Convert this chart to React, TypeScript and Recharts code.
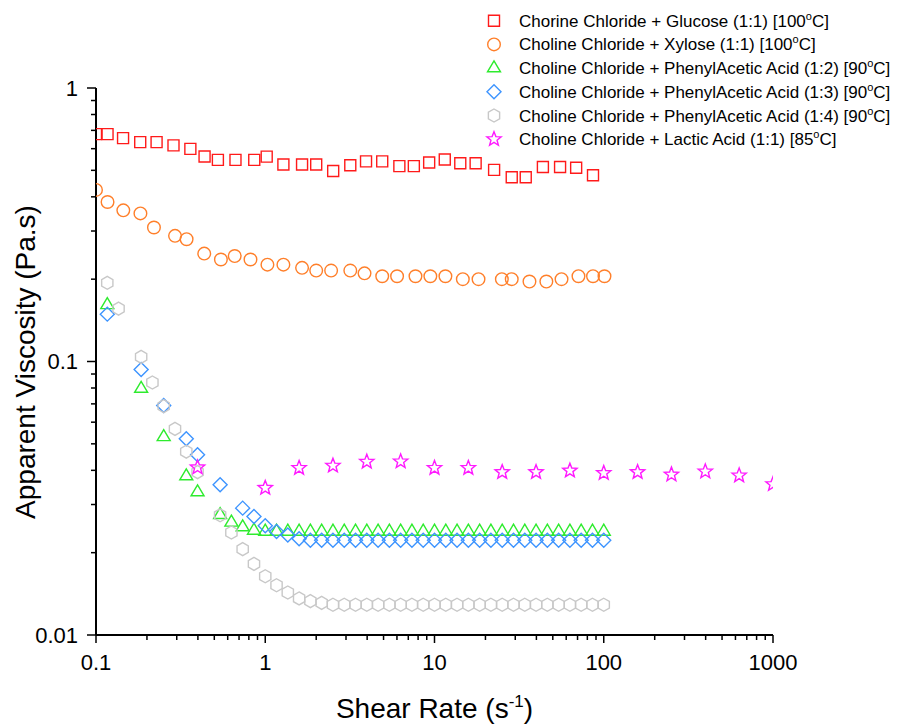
import React from 'react';
import { ScatterChart, Scatter, XAxis, YAxis } from 'recharts';

// ---- Data (shear rate in s^-1, apparent viscosity in Pa.s) ----
const glucoseRate = [0.1, 0.117, 0.1445, 0.1825, 0.228, 0.287, 0.361, 0.438, 0.525, 0.667, 0.861, 1.02, 1.28, 1.65, 2.0, 2.52, 3.18, 3.94, 4.91, 6.2, 7.55, 9.3, 11.5, 14.2, 17.5, 22.5, 28.6, 34.6, 43.7, 55.2, 68.7, 86.4];
const glucoseVisc = [0.678, 0.678, 0.656, 0.634, 0.634, 0.617, 0.599, 0.562, 0.546, 0.546, 0.546, 0.561, 0.525, 0.525, 0.525, 0.497, 0.522, 0.539, 0.539, 0.518, 0.518, 0.534, 0.548, 0.531, 0.531, 0.502, 0.472, 0.472, 0.514, 0.514, 0.511, 0.48];

const xyloseRate = [0.1, 0.117, 0.145, 0.183, 0.22, 0.293, 0.343, 0.436, 0.547, 0.66, 0.818, 1.03, 1.28, 1.65, 2.0, 2.45, 3.18, 3.86, 4.91, 6.01, 7.72, 9.45, 11.6, 14.7, 18.2, 25.0, 28.6, 36.4, 45.8, 56.3, 70.9, 86.4, 101];
const xyloseVisc = [0.424, 0.383, 0.357, 0.348, 0.309, 0.288, 0.28, 0.248, 0.236, 0.243, 0.236, 0.226, 0.226, 0.22, 0.215, 0.215, 0.215, 0.21, 0.205, 0.205, 0.205, 0.205, 0.205, 0.2, 0.2, 0.2, 0.2, 0.196, 0.196, 0.2, 0.205, 0.205, 0.205];

const paa12Rate = [0.1166, 0.1848, 0.2512, 0.3415, 0.3981, 0.5412, 0.631, 0.7356, 0.8577, 1, 1.166, 1.359, 1.585, 1.848, 2.154, 2.512, 2.929, 3.415, 3.981, 4.642, 5.412, 6.31, 7.356, 8.577, 10, 11.66, 13.59, 15.85, 18.48, 21.54, 25.12, 29.29, 34.15, 39.81, 46.42, 54.12, 63.1, 73.56, 85.77, 100];
const paa12Visc = [0.161, 0.0796, 0.053, 0.0381, 0.0333, 0.0275, 0.0258, 0.0248, 0.0241, 0.0239, 0.0239, 0.0239, 0.0239, 0.0239, 0.0239, 0.0239, 0.0239, 0.0239, 0.0239, 0.0239, 0.0239, 0.0239, 0.0239, 0.0239, 0.0239, 0.0239, 0.0239, 0.0239, 0.0239, 0.0239, 0.0239, 0.0239, 0.0239, 0.0239, 0.0239, 0.0239, 0.0239, 0.0239, 0.0239, 0.0239];

const paa13Rate = [0.1166, 0.1848, 0.2512, 0.3415, 0.3981, 0.5412, 0.7356, 0.8577, 1, 1.166, 1.359, 1.585, 1.848, 2.154, 2.512, 2.929, 3.415, 3.981, 4.642, 5.412, 6.31, 7.356, 8.577, 10, 11.66, 13.59, 15.85, 18.48, 21.54, 25.12, 29.29, 34.15, 39.81, 46.42, 54.12, 63.1, 73.56, 85.77, 100];
const paa13Visc = [0.149, 0.0935, 0.069, 0.0522, 0.0456, 0.0354, 0.0291, 0.0271, 0.0251, 0.0239, 0.0232, 0.0225, 0.0222, 0.0222, 0.0222, 0.0222, 0.0222, 0.0222, 0.0222, 0.0222, 0.0222, 0.0222, 0.0222, 0.0222, 0.0222, 0.0222, 0.0222, 0.0222, 0.0222, 0.0222, 0.0222, 0.0222, 0.0222, 0.0222, 0.0222, 0.0222, 0.0222, 0.0222, 0.0222];

const paa14Rate = [0.1166, 0.1359, 0.1848, 0.2154, 0.2512, 0.2929, 0.3415, 0.3981, 0.5412, 0.631, 0.7356, 0.8577, 1, 1.166, 1.359, 1.585, 1.848, 2.154, 2.512, 2.929, 3.415, 3.981, 4.642, 5.412, 6.31, 7.356, 8.577, 10, 11.66, 13.59, 15.85, 18.48, 21.54, 25.12, 29.29, 34.15, 39.81, 46.42, 54.12, 63.1, 73.56, 85.77, 100];
const paa14Visc = [0.194, 0.156, 0.104, 0.0838, 0.0687, 0.0567, 0.0468, 0.0394, 0.0274, 0.0237, 0.0206, 0.0182, 0.0164, 0.0152, 0.0143, 0.0136, 0.0133, 0.0131, 0.0129, 0.0129, 0.0129, 0.0129, 0.0129, 0.0129, 0.0129, 0.0129, 0.0129, 0.0129, 0.0129, 0.0129, 0.0129, 0.0129, 0.0129, 0.0129, 0.0129, 0.0129, 0.0129, 0.0129, 0.0129, 0.0129, 0.0129, 0.0129, 0.0129];

const lacticRate = [0.3981, 1, 1.585, 2.512, 3.981, 6.31, 10, 15.85, 25.12, 39.81, 63.1, 100, 158.5, 251.2, 398.1, 631, 1000];
const lacticVisc = [0.041, 0.0345, 0.0408, 0.0416, 0.043, 0.0431, 0.0408, 0.0408, 0.0394, 0.0394, 0.0399, 0.0391, 0.0394, 0.0386, 0.0396, 0.0383, 0.0356];

const xMajorTicks = [0.1, 1, 10, 100, 1000];
const xTickLabels = ['0.1', '1', '10', '100', '1000'];
const xTicks = [0.1, 0.2, 0.3, 0.4, 0.5, 0.6, 0.7, 0.8, 0.9, 1, 2, 3, 4, 5, 6, 7, 8, 9, 10, 20, 30, 40, 50, 60, 70, 80, 90, 100, 200, 300, 400, 500, 600, 700, 800, 900, 1000];
const yMajorTicks = [0.01, 0.1, 1];
const yTickLabels = ['0.01', '0.1', '1'];
const yTicks = [0.01, 0.02, 0.03, 0.04, 0.05, 0.06, 0.07, 0.08, 0.09, 0.1, 0.2, 0.3, 0.4, 0.5, 0.6, 0.7, 0.8, 0.9, 1];

const seriesNames = [
  'Chorine Chloride + Glucose (1:1) [100',
  'Choline Chloride + Xylose (1:1) [100',
  'Choline Chloride + PhenylAcetic Acid (1:2) [90',
  'Choline Chloride + PhenylAcetic Acid (1:3) [90',
  'Choline Chloride + PhenylAcetic Acid (1:4) [90',
  'Choline Chloride + Lactic Acid (1:1) [85',
];

const toPoints = (xs: number[], ys: number[]) => xs.map((x, i) => ({ x, y: ys[i] }));

const FONT = '"Liberation Sans", Arial, Helvetica, sans-serif';
const COLORS = ['#FF1A1A', '#FF7F2A', '#2EEB2E', '#3D94FF', '#C8C8C8', '#FF1AFF'];
const KINDS = ['square', 'circle', 'triangle', 'diamond', 'hexagon', 'star'];

function markerPath(kind: string, cx: number, cy: number): string {
  switch (kind) {
    case 'square':
      return `M${cx - 5.5},${cy - 5.5}h11v11h-11Z`;
    case 'circle':
      return `M${cx - 6.3},${cy}a6.3,6.3 0 1,0 12.6,0a6.3,6.3 0 1,0 -12.6,0Z`;
    case 'triangle':
      return `M${cx},${cy - 7.3}L${cx + 6.5},${cy + 3.7}L${cx - 6.5},${cy + 3.7}Z`;
    case 'diamond':
      return `M${cx},${cy - 7}L${cx + 7},${cy}L${cx},${cy + 7}L${cx - 7},${cy}Z`;
    case 'hexagon': {
      const r = 6.5;
      const pts = [-90, -30, 30, 90, 150, 210].map((a) => {
        const t = (a * Math.PI) / 180;
        return `${cx + r * Math.cos(t)},${cy + r * Math.sin(t)}`;
      });
      return `M${pts.join('L')}Z`;
    }
    case 'star': {
      const pts: string[] = [];
      for (let i = 0; i < 10; i++) {
        const r = i % 2 === 0 ? 7.5 : 3.2;
        const t = ((-90 + i * 36) * Math.PI) / 180;
        pts.push(`${cx + r * Math.cos(t)},${cy + r * Math.sin(t)}`);
      }
      return `M${pts.join('L')}Z`;
    }
    default:
      return '';
  }
}

const makeShape = (kind: string, color: string) => (props: any) => {
  const { cx, cy } = props;
  if (cx == null || cy == null) return <g />;
  return <path d={markerPath(kind, cx, cy)} fill="none" stroke={color} strokeWidth={1.4} />;
};

const XTick = (props: any) => {
  const { x, y, payload } = props;
  const v = payload.value;
  const idx = xMajorTicks.indexOf(v);
  const major = idx >= 0;
  return (
    <g>
      <line x1={x} x2={x} y1={y} y2={y + (major ? 8 : 5)} stroke="#000" strokeWidth={1.5} />
      {major && (
        <text x={x} y={y + 35} textAnchor="middle" fontSize={22} fontFamily={FONT} fill="#000">
          {xTickLabels[idx]}
        </text>
      )}
    </g>
  );
};

const YTick = (props: any) => {
  const { x, y, payload } = props;
  const v = payload.value;
  const idx = yMajorTicks.indexOf(v);
  const major = idx >= 0;
  return (
    <g>
      <line x1={x - (major ? 9 : 5)} x2={x} y1={y} y2={y} stroke="#000" strokeWidth={1.5} />
      {major && (
        <text x={x - 18} y={y + 7.8} textAnchor="end" fontSize={22} fontFamily={FONT} fill="#000">
          {yTickLabels[idx]}
        </text>
      )}
    </g>
  );
};

const seriesData = [
  toPoints(glucoseRate, glucoseVisc),
  toPoints(xyloseRate, xyloseVisc),
  toPoints(paa12Rate, paa12Visc),
  toPoints(paa13Rate, paa13Visc),
  toPoints(paa14Rate, paa14Visc),
  toPoints(lacticRate, lacticVisc),
];

export default function App() {
  const W = 897;
  const H = 718;
  return (
    <div style={{ position: 'relative', width: W, height: H, background: '#fff' }}>
      <ScatterChart width={W} height={H} margin={{ top: 80, right: 132, left: 0, bottom: 0 }}>
        <XAxis
          dataKey="x"
          type="number"
          scale="log"
          domain={[0.1, 1000]}
          allowDataOverflow
          ticks={xTicks}
          interval={0}
          height={91}
          tickLine={false}
          tickSize={0}
          tickMargin={0}
          tick={(p: any) => <XTick {...p} />}
          axisLine={{ stroke: '#000', strokeWidth: 2 }}
        />
        <YAxis
          dataKey="y"
          type="number"
          scale="log"
          domain={[0.01, 1]}
          allowDataOverflow
          ticks={yTicks}
          interval={0}
          width={88}
          tickLine={false}
          tickSize={0}
          tickMargin={0}
          tick={(p: any) => <YTick {...p} />}
          axisLine={{ stroke: '#000', strokeWidth: 2 }}
        />
        {seriesData.map((d, i) => (
          <Scatter
            key={i}
            name={seriesNames[i]}
            data={d}
            isAnimationActive={false}
            shape={makeShape(KINDS[i], COLORS[i])}
          />
        ))}
      </ScatterChart>
      <svg
        width={W}
        height={H}
        style={{ position: 'absolute', left: 0, top: 0, pointerEvents: 'none' }}
        fontFamily={FONT}
      >
        {seriesNames.map((name, i) => {
          const cy = 12.7 + i * 23.7;
          return (
            <g key={i}>
              <path d={markerPath(KINDS[i], 486, cy)} fill="none" stroke={COLORS[i]} strokeWidth={1.4} />
              <text x={511} y={cy + 6} fontSize={17} fill="#000">
                {name}
                <tspan dy={-7} fontSize={11}>o</tspan>
                <tspan dy={7}>C]</tspan>
              </text>
            </g>
          );
        })}
        <text
          x={27}
          y={354}
          transform="rotate(-90, 27, 354)"
          textAnchor="middle"
          fontSize={28}
          fill="#000"
        >
          Apparent Viscosity (Pa.s)
        </text>
        <text x={426.5} y={709.5} textAnchor="middle" fontSize={28} fill="#000">
          Shear Rate (s
          <tspan dy={-11} fontSize={17}>-1</tspan>
          <tspan dy={11}>)</tspan>
        </text>
      </svg>
    </div>
  );
}
